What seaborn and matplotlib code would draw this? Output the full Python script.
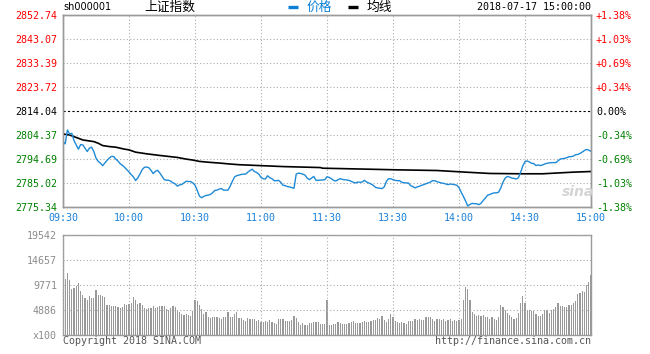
import numpy as np
import pandas as pd
import matplotlib
matplotlib.use("Agg")
import matplotlib.pyplot as plt
from matplotlib.lines import Line2D
import seaborn as sns

# ---------------- data ----------------
prev_close = 2814.04

price_0930 = [2801.71, 2800.78, 2806.37, 2804.77, 2805.04, 2802.11, 2800.38, 2798.65, 2800.51, 2800.38,
              2799.05, 2797.72, 2799.05, 2799.45, 2797.72, 2795.05, 2793.72, 2793.06, 2791.99, 2793.06,
              2794.12, 2795.05, 2795.72, 2795.72, 2794.65, 2793.86, 2792.79, 2792.12, 2791.33, 2790.40]
price_1000 = [2789.46, 2788.40, 2787.47, 2786.00, 2787.07, 2788.66, 2790.40, 2791.33, 2791.46, 2791.19,
              2790.13, 2788.80, 2789.73, 2790.13, 2789.06, 2787.73, 2786.40, 2786.14, 2786.14, 2785.74,
              2785.07, 2784.67, 2783.74, 2784.27, 2784.41, 2785.07, 2785.74, 2785.60, 2785.60, 2785.07]
price_1030 = [2784.14, 2782.14, 2779.75, 2779.08, 2779.61, 2780.01, 2780.14, 2780.41, 2781.08, 2782.01,
              2782.14, 2782.54, 2782.81, 2782.14, 2782.14, 2782.14, 2783.74, 2785.74, 2787.47, 2788.00,
              2788.20, 2788.46, 2788.59, 2788.59, 2789.39, 2790.05, 2790.58, 2789.65, 2789.26, 2788.59]
price_1100 = [2787.27, 2786.74, 2786.61, 2787.93, 2787.13, 2786.74, 2785.94, 2785.94, 2786.08, 2785.28,
              2784.09, 2783.96, 2783.56, 2783.43, 2783.16, 2782.89, 2788.59, 2788.99, 2788.86, 2788.59,
              2788.19, 2787.00, 2786.34, 2787.00, 2787.67, 2786.08, 2786.08, 2786.21, 2786.21, 2786.34]
price_1300 = [2787.53, 2787.27, 2786.74, 2786.08, 2785.81, 2786.34, 2786.74, 2786.47, 2786.34, 2786.21,
              2786.08, 2785.68, 2785.28, 2785.02, 2785.41, 2785.28, 2785.41, 2786.08, 2785.41, 2785.02,
              2784.62, 2784.09, 2783.29, 2783.03, 2782.89, 2782.76, 2783.43, 2785.68, 2786.74, 2786.74]
price_1330 = [2786.34, 2786.08, 2785.94, 2785.94, 2785.28, 2785.15, 2785.02, 2785.02, 2783.96, 2783.56,
              2783.03, 2783.43, 2783.69, 2784.09, 2784.35, 2784.75, 2785.02, 2785.41, 2785.94, 2785.94,
              2785.55, 2785.28, 2785.02, 2784.88, 2784.62, 2784.35, 2784.62, 2784.49, 2784.35, 2784.09]
price_1400 = [2783.16, 2781.31, 2779.58, 2777.73, 2775.74, 2776.40, 2776.80, 2776.67, 2776.67, 2776.27,
              2776.80, 2777.99, 2778.92, 2780.11, 2780.38, 2780.78, 2781.04, 2781.04, 2781.31, 2783.03,
              2785.41, 2787.00, 2787.67, 2787.40, 2787.00, 2786.87, 2786.61, 2787.13, 2789.26, 2791.91]
price_1430 = [2793.63, 2793.89, 2793.50, 2792.97, 2792.83, 2792.04, 2792.30, 2792.04, 2792.30, 2792.70,
              2792.97, 2793.10, 2793.23, 2793.23, 2793.23, 2793.89, 2794.69, 2794.82, 2794.95, 2795.22,
              2795.62, 2795.62, 2795.88, 2796.41, 2796.54, 2796.94, 2797.47, 2798.13, 2798.53, 2798.26,
              2797.74]

avg_minute = [0, 3, 5, 7, 9, 12, 14, 16, 18, 21, 24, 28, 30, 33, 38, 44, 52, 56, 59, 62, 67, 71, 76, 80,
              100, 117, 118, 139, 152, 170, 183, 194, 208, 218, 232, 240]
avg_price = [2804.77, 2804.37, 2803.70, 2803.04, 2802.37, 2801.97, 2801.71, 2801.04, 2800.11, 2799.71,
             2799.45, 2798.65, 2798.38, 2797.45, 2796.78, 2796.12, 2795.32, 2794.65, 2794.26, 2793.72,
             2793.32, 2793.06, 2792.66, 2792.39, 2791.64, 2791.24, 2790.98, 2790.58, 2790.32, 2790.05,
             2789.39, 2788.86, 2788.73, 2788.73, 2789.39, 2789.65]

# volume in units of 100 lots, one bar per minute
vol_0930 = [10000, 10890, 12078, 10692, 8910, 9108, 9504, 10230, 8580, 7722,
            7326, 6930, 7524, 7194, 7326, 8712, 7722, 7722, 7590, 7392,
            5940, 5940, 5700, 5700, 5700, 5400, 5200, 5500, 6000, 5800]
vol_1000 = [6000, 6300, 7400, 6900, 6000, 6200, 5900, 5300, 5000, 5300,
            5300, 5700, 5300, 5400, 5700, 5700, 5700, 5100, 4900, 5300,
            5700, 5400, 4700, 4500, 4200, 3900, 4100, 4000, 3800, 4600]
vol_1030 = [6900, 6600, 5900, 5000, 4200, 4500, 3600, 3300, 3600, 3600,
            3500, 3300, 3200, 3600, 3600, 4500, 3500, 3500, 4200, 4400,
            3400, 3400, 3000, 2800, 3400, 3200, 3200, 3200, 2800, 3000]
vol_1100 = [2600, 2600, 2800, 2600, 3000, 2600, 2400, 2200, 3200, 3200,
            3200, 2800, 2800, 2800, 3000, 3800, 3400, 2600, 2000, 2400,
            2000, 2000, 2400, 2400, 2600, 2600, 2600, 2200, 2200, 2200]
vol_1300 = [6930, 2000, 2000, 2200, 2200, 2600, 2400, 2200, 2200, 2200,
            2400, 2600, 2800, 2400, 2400, 2400, 2600, 2800, 2600, 2600,
            2800, 3000, 3000, 3400, 3200, 3800, 3000, 2600, 3200, 4200]
vol_1330 = [3600, 2800, 2600, 2400, 2600, 2400, 2200, 2800, 2800, 2800,
            3200, 3000, 3200, 3000, 3000, 3600, 3600, 3600, 3200, 2800,
            3200, 3200, 3000, 3200, 2800, 3000, 3200, 2800, 3000, 2800]
vol_1400 = [3000, 3200, 6930, 9306, 8910, 6930, 4554, 4158, 3762, 3960,
            3762, 3960, 3564, 3564, 3168, 3564, 3168, 2970, 3564, 5940,
            5544, 4950, 4356, 3960, 3564, 3168, 3366, 4356, 6336, 7524]
vol_1430 = [6336, 4950, 4950, 4752, 4752, 4158, 3762, 3762, 4158, 4950,
            4950, 4356, 4950, 5148, 5544, 6336, 5742, 5742, 5544, 5544,
            5940, 5940, 6336, 6600, 7920, 8118, 8514, 8316, 9702, 10296,
            11682]

price_ticks = [2852.74, 2843.07, 2833.39, 2823.72, 2814.04, 2804.37, 2794.69, 2785.02, 2775.34]
pct_labels = ["+1.38%", "+1.03%", "+0.69%", "+0.34%", "0.00%", "-0.34%", "-0.69%", "-1.03%", "-1.38%"]
vol_ticks = [0, 4886, 9771, 14657, 19542]
vol_tick_labels = ["x100", "4886", "9771", "14657", "19542"]
time_ticks = [0, 30, 60, 90, 120, 150, 180, 210, 240]
time_labels = ["09:30", "10:00", "10:30", "11:00", "11:30", "13:30", "14:00", "14:30", "15:00"]

# ---------------- frames ----------------
price = price_0930 + price_1000 + price_1030 + price_1100 + price_1300 + price_1330 + price_1400 + price_1430
volume = vol_0930 + vol_1000 + vol_1030 + vol_1100 + vol_1300 + vol_1330 + vol_1400 + vol_1430
df = pd.DataFrame({"minute": np.arange(len(price)), "price": price, "volume": volume})
df_avg = pd.DataFrame({"minute": avg_minute, "avg": avg_price})

# ---------------- style ----------------
sns.set_style("white")
plt.rcParams["font.family"] = ["DejaVu Sans", "Noto Sans CJK SC"]
MONO = "DejaVu Sans Mono"
CJK = ["Noto Sans CJK SC", "DejaVu Sans"]
RED, GREEN, BLUE = "#ff0000", "#008000", "#1a80d8"
LINE_BLUE = "#1e8ad6"
GRID = "#ababab"
FRAME = "#9a9a9a"

W, H = 650, 354
fig = plt.figure(figsize=(W / 100, H / 100), dpi=100)
fig.patch.set_facecolor("white")


def fx(px):
    return px / W


def fy(py):
    return 1 - py / H


L, R = 63, 591
ax = fig.add_axes([fx(L), fy(207), fx(R) - fx(L), fy(15) - fy(207)])
axv = fig.add_axes([fx(L), fy(335), fx(R) - fx(L), fy(235) - fy(335)])

# ---------------- price panel ----------------
sns.lineplot(data=df, x="minute", y="price", ax=ax, color=LINE_BLUE, linewidth=1.0, zorder=4)
sns.lineplot(data=df_avg, x="minute", y="avg", ax=ax, color="black", linewidth=1.2, zorder=3)
ax.axhline(prev_close, color="black", linestyle=(0, (2, 2)), linewidth=0.8, zorder=2)

ax.set_xlim(0, 240)
ax.set_ylim(price_ticks[-1], price_ticks[0])
ax.set_xticks(time_ticks)
ax.set_xticklabels(time_labels)
ax.set_yticks(price_ticks)
ax.set_yticklabels([f"{v:.2f}" for v in price_ticks])
ax.set_xlabel("")
ax.set_ylabel("")
ax.grid(True, color=GRID, linestyle=(0, (1, 2)), linewidth=0.8)
ax.yaxis.get_gridlines()[4].set_visible(False)
ax.tick_params(axis="y", length=0, pad=4.3, labelsize=7.2)
ax.tick_params(axis="x", length=0, pad=4.0, labelsize=7.2, labelcolor=BLUE)
for lbl in ax.get_xticklabels() + ax.get_yticklabels():
    lbl.set_fontfamily(MONO)
for lbl, v in zip(ax.get_yticklabels(), price_ticks):
    lbl.set_color(RED if v > prev_close + 1e-6 else (GREEN if v < prev_close - 1e-6 else "black"))

ax2 = ax.twinx()
ax2.set_ylim(ax.get_ylim())
ax2.set_yticks(price_ticks)
ax2.set_yticklabels(pct_labels)
ax2.tick_params(axis="y", length=0, pad=3.6, labelsize=7.2)
for lbl, v in zip(ax2.get_yticklabels(), price_ticks):
    lbl.set_fontfamily(MONO)
    lbl.set_color(RED if v > prev_close + 1e-6 else (GREEN if v < prev_close - 1e-6 else "black"))

for a in (ax, ax2):
    for s in a.spines.values():
        s.set_color(FRAME)
        s.set_linewidth(1.0)

# ---------------- volume panel ----------------
sns.barplot(data=df, x="minute", y="volume", ax=axv, native_scale=True, color="#999999",
            width=0.46, errorbar=None, saturation=1, linewidth=0, antialiased=False)
axv.set_xlim(0, 240)
axv.set_ylim(0, vol_ticks[-1])
axv.set_xticks(time_ticks)
axv.set_xticklabels([])
axv.set_yticks(vol_ticks)
axv.set_yticklabels(vol_tick_labels)
axv.set_xlabel("")
axv.set_ylabel("")
axv.set_axisbelow(False)
axv.grid(True, color=GRID, linestyle=(0, (1, 2)), linewidth=0.8)
axv.tick_params(axis="y", length=0, pad=4.3, labelsize=7.2, labelcolor="#8c8c8c")
axv.tick_params(axis="x", length=0)
for lbl in axv.get_yticklabels():
    lbl.set_fontfamily(MONO)
for s in axv.spines.values():
    s.set_color(FRAME)
    s.set_linewidth(1.0)

# ---------------- header & footer ----------------
hy = fy(7)
fig.text(fx(63), hy, "sh000001", fontsize=7, color="black", va="center", ha="left", family="DejaVu Sans")
fig.text(fx(144), hy, "上证指数", fontsize=9.2, color="black", va="center", ha="left", family=CJK)
fig.add_artist(Line2D([fx(288), fx(298)], [fy(7), fy(7)], color="#0a7fd6", linewidth=2.4,
                      solid_capstyle="butt", transform=fig.transFigure))
fig.text(fx(307), hy, "价格", fontsize=9.2, color="#0a7fd6", va="center", ha="left", family=CJK)
fig.add_artist(Line2D([fx(348), fx(358)], [fy(7), fy(7)], color="black", linewidth=2.4,
                      solid_capstyle="butt", transform=fig.transFigure))
fig.text(fx(367), hy, "均线", fontsize=9.2, color="black", va="center", ha="left", family=CJK)
fig.text(fx(591), hy, "2018-07-17 15:00:00", fontsize=7.2, color="black", va="center", ha="right",
         family=MONO)

fig.text(fx(63), fy(341), "Copyright 2018 SINA.COM", fontsize=7.2, color="#555555", va="center",
         ha="left", family=MONO)
fig.text(fx(591), fy(341), "http://finance.sina.com.cn", fontsize=7.2, color="#555555", va="center",
         ha="right", family=MONO)

# watermark
fig.text(fx(578), fy(192), "sina", fontsize=10, color="#d4d4d4", va="center", ha="center",
         style="italic", weight="bold", family="DejaVu Sans", zorder=0)

fig.savefig("out.png", dpi=100, facecolor="white")
